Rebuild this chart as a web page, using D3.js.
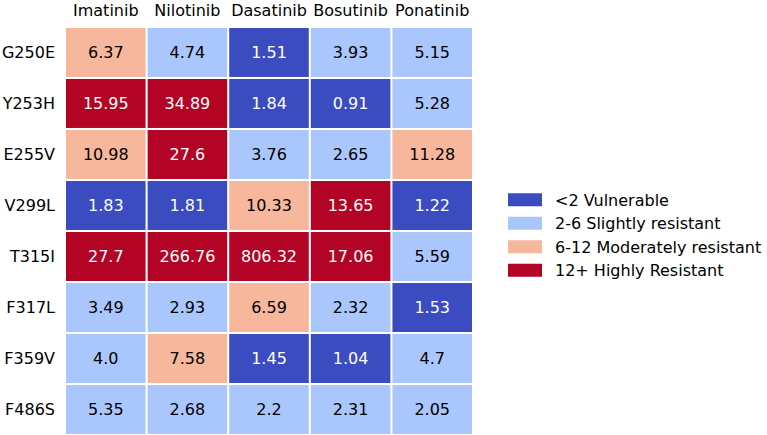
<!DOCTYPE html>
<html><head><meta charset="utf-8">
<script src="https://cdn.jsdelivr.net/npm/d3@7"></script>
<style>body{margin:0;background:#fff;}svg{font-family:"DejaVu Sans",sans-serif;}</style>
</head><body><svg id="c" width="767" height="435"></svg>
<script>
const drugs = ["Imatinib","Nilotinib","Dasatinib","Bosutinib","Ponatinib"];
const mutations = ["G250E","Y253H","E255V","V299L","T315I","F317L","F359V","F486S"];
const values = [
  [6.37, 4.74, 1.51, 3.93, 5.15],
  [15.95, 34.89, 1.84, 0.91, 5.28],
  [10.98, 27.6, 3.76, 2.65, 11.28],
  [1.83, 1.81, 10.33, 13.65, 1.22],
  [27.7, 266.76, 806.32, 17.06, 5.59],
  [3.49, 2.93, 6.59, 2.32, 1.53],
  [4.0, 7.58, 1.45, 1.04, 4.7],
  [5.35, 2.68, 2.2, 2.31, 2.05]
];
const binEdges = [2, 6, 12];
const binColors = ["#3b4cc0", "#aac7fd", "#f6b79c", "#b40426"];
const legendLabels = ["<2 Vulnerable","2-6 Slightly resistant","6-12 Moderately resistant","12+ Highly Resistant"];

const FS = 16;
const svg = d3.select("#c");
const x = d3.scaleBand().domain(drugs).range([66, 472]).paddingInner(0.025).paddingOuter(0.0);
const y = d3.scaleBand().domain(mutations).range([28, 434]).paddingInner(0.04).paddingOuter(0.0);
const color = d3.scaleThreshold().domain(binEdges).range(binColors);
const fmt = v => Number.isInteger(v) ? v.toFixed(1) : String(v);

const cells = [];
mutations.forEach((m, i) => drugs.forEach((d, j) => cells.push({m, d, v: values[i][j]})));

const g = svg.append("g");
g.selectAll("rect").data(cells).join("rect")
  .attr("x", c => x(c.d)).attr("y", c => y(c.m))
  .attr("width", x.bandwidth()).attr("height", y.bandwidth())
  .attr("fill", c => color(c.v));
g.selectAll("text").data(cells).join("text")
  .attr("x", c => x(c.d) + x.bandwidth()/2)
  .attr("y", c => y(c.m) + y.bandwidth()/2)
  .attr("dy", "0.36em").attr("text-anchor", "middle")
  .attr("font-size", FS)
  .attr("fill", c => (c.v < 2 || c.v >= 12) ? "#fff" : "#000")
  .text(c => fmt(c.v));

// column headers
svg.append("g").attr("transform", "translate(0,10)")
  .call(d3.axisTop(x).tickSize(0).tickPadding(0))
  .call(a => a.select(".domain").remove())
  .selectAll("text").attr("font-size", FS).attr("fill", "#000")
  .attr("font-family", "DejaVu Sans").attr("dy", "0.36em");

// row labels
svg.append("g").attr("transform", "translate(55,0)")
  .call(d3.axisLeft(y).tickSize(0).tickPadding(0))
  .call(a => a.select(".domain").remove())
  .selectAll("text").attr("font-size", FS).attr("fill", "#000")
  .attr("font-family", "DejaVu Sans");

// legend
const ly = d3.scaleBand().domain(legendLabels).range([188, 282]);
const lg = svg.append("g");
lg.selectAll("rect").data(legendLabels).join("rect")
  .attr("x", 508).attr("y", d => ly(d) + ly.bandwidth()/2 - 6.5)
  .attr("width", 34).attr("height", 13)
  .attr("fill", (d, i) => binColors[i]);
lg.selectAll("text").data(legendLabels).join("text")
  .attr("x", 555).attr("y", d => ly(d) + ly.bandwidth()/2)
  .attr("dy", "0.36em").attr("font-size", FS).attr("fill", "#000")
  .text(d => d);
</script></body></html>
